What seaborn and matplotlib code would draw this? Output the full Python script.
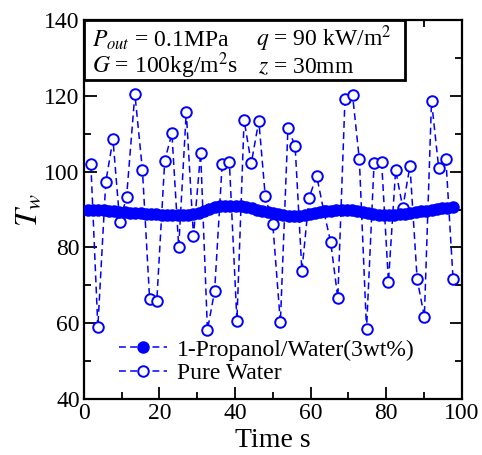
import numpy as np
import pandas as pd
import matplotlib
matplotlib.use('Agg')
import matplotlib.pyplot as plt
import seaborn as sns
from matplotlib.patches import Rectangle
from matplotlib.ticker import MultipleLocator

# ---- data ----
prop_time = [1.0, 2.4, 3.8, 5.2, 6.6, 8.0, 9.4, 10.8, 12.2, 13.6, 15.0, 16.4, 17.8, 19.2,
             20.6, 22.0, 23.4, 24.8, 26.2, 27.6, 29.0, 30.4, 31.8, 33.2, 34.6, 36.0, 37.4,
             38.8, 40.2, 41.6, 43.0, 44.4, 45.8, 47.2, 48.6, 50.0, 51.4, 52.8, 54.2, 55.6,
             57.0, 58.4, 59.8, 61.2, 62.6, 64.0, 65.4, 66.8, 68.2, 69.6, 71.0, 72.4, 73.8,
             75.2, 76.6, 78.0, 79.4, 80.8, 82.2, 83.6, 85.0, 86.4, 87.8, 89.2, 90.6, 92.0,
             93.4, 94.8, 96.2, 97.6]
prop_temp = [90.0, 90.0, 89.9, 89.8, 89.7, 89.6, 89.4, 89.3, 89.2, 89.1, 89.0, 88.9, 88.8,
             88.7, 88.6, 88.6, 88.5, 88.5, 88.5, 88.6, 88.8, 89.2, 89.7, 90.2, 90.6, 90.9,
             91.0, 91.0, 90.9, 90.8, 90.6, 90.3, 90.0, 89.7, 89.3, 89.0, 88.7, 88.5, 88.3,
             88.3, 88.4, 88.6, 88.8, 89.1, 89.3, 89.5, 89.7, 89.8, 89.9, 89.9, 89.8, 89.6,
             89.3, 89.0, 88.7, 88.5, 88.5, 88.5, 88.6, 88.7, 88.9, 89.1, 89.3, 89.5, 89.7,
             89.9, 90.1, 90.3, 90.5, 90.7]

water_time = [1.85, 3.7, 5.8, 7.7, 9.5, 11.3, 13.5, 15.5, 17.4, 19.3, 21.4, 23.3, 25.1,
              27.1, 29.0, 30.9, 32.7, 34.6, 36.6, 38.5, 40.5, 42.4, 44.3, 46.3, 48.0, 50.0,
              52.0, 54.0, 55.9, 57.7, 59.6, 61.6, 63.5, 65.3, 67.2, 69.1, 71.1, 72.9, 74.8,
              76.8, 78.8, 80.6, 82.5, 84.4, 86.3, 88.2, 90.1, 92.0, 93.9, 95.8, 97.7]
water_temp = [102.0, 59.0, 97.3, 108.5, 86.7, 93.3, 120.5, 100.4, 66.4, 65.9, 102.9, 110.1,
              80.1, 115.8, 83.0, 105.0, 58.2, 68.5, 102.0, 102.6, 60.7, 113.6, 102.2, 113.4,
              93.5, 86.1, 60.2, 111.4, 106.8, 73.8, 93.1, 98.9, 89.5, 81.5, 66.7, 119.2,
              120.2, 103.2, 58.4, 102.3, 102.5, 70.9, 100.4, 90.5, 101.5, 71.6, 61.7, 118.6,
              101.0, 103.3, 71.7]

series_labels = ["1-Propanol/Water(3wt%)", "Pure Water"]
x_label = "Time s"
y_label = r"$T_w$"
x_ticks = [0, 20, 40, 60, 80, 100]
y_ticks = [40, 60, 80, 100, 120, 140]

# ---- style ----
sns.set_style('ticks')
plt.rcParams['font.family'] = ['Liberation Serif', 'DejaVu Serif']
plt.rcParams['mathtext.fontset'] = 'stix'
plt.rcParams['text.color'] = 'black'
plt.rcParams['axes.labelcolor'] = 'black'

fig = plt.figure(figsize=(4.82, 4.55), dpi=100)
ax = fig.add_axes([0.174, 0.123, 0.784, 0.833])

blue = '#0000ff'
dash = (0, (4.5, 2.8))

sns.lineplot(x=water_time, y=water_temp, ax=ax, color=blue, linestyle=dash, lw=1.1,
             marker='o', markersize=7.6, markerfacecolor='white', markeredgecolor=blue,
             markeredgewidth=1.4, label=series_labels[1], sort=False, zorder=2)
sns.lineplot(x=prop_time, y=prop_temp, ax=ax, color=blue, linestyle=dash, lw=1.1,
             marker='o', markersize=8.0, markerfacecolor=blue, markeredgecolor=blue,
             markeredgewidth=1.0, label=series_labels[0], sort=False, zorder=3)

ax.set_xlim(0, 100)
ax.set_ylim(40, 140)
ax.set_xticks(x_ticks)
ax.set_yticks(y_ticks)
ax.xaxis.set_minor_locator(MultipleLocator(10))
ax.yaxis.set_minor_locator(MultipleLocator(10))
ax.tick_params(which='both', direction='in', top=True, right=True, width=1.3,
               labelsize=17, colors='black')
ax.tick_params(which='major', length=9, pad=3)
ax.tick_params(which='minor', length=5)
for s in ax.spines.values():
    s.set_linewidth(1.6)
    s.set_color('black')
    s.set_visible(True)

ax.set_xlabel(x_label, fontsize=20, labelpad=3)
ax.set_ylabel(y_label, fontsize=23, labelpad=0)

# legend (propanol first)
handles, labels = ax.get_legend_handles_labels()
order = [labels.index(series_labels[0]), labels.index(series_labels[1])]
leg = ax.legend([handles[i] for i in order], [labels[i] for i in order],
                loc='lower left', bbox_to_anchor=(0.05, -0.005), frameon=False,
                fontsize=17, handlelength=2.0, handletextpad=0.45, labelspacing=0.1,
                borderpad=0.2)

# condition box
ax.add_patch(Rectangle((0, 0.842), 0.849, 0.158, transform=ax.transAxes,
                       facecolor='white', edgecolor='black', lw=2.0, zorder=5, clip_on=False))
fs = 17
ax.text(0.022, 0.93, r"$P_{out}$ = 0.1MPa", transform=ax.transAxes, fontsize=fs,
        va='baseline', ha='left', zorder=6)
ax.text(0.022, 0.86, r"$G$ = 100kg/m$^2$s", transform=ax.transAxes, fontsize=fs,
        va='baseline', ha='left', zorder=6)
ax.text(0.455, 0.93, r"$q$ = 90 kW/m$^2$", transform=ax.transAxes, fontsize=fs,
        va='baseline', ha='left', zorder=6)
ax.text(0.46, 0.86, r"$z$ = 30mm", transform=ax.transAxes, fontsize=fs,
        va='baseline', ha='left', zorder=6)

fig.savefig('out.png', dpi=100)
